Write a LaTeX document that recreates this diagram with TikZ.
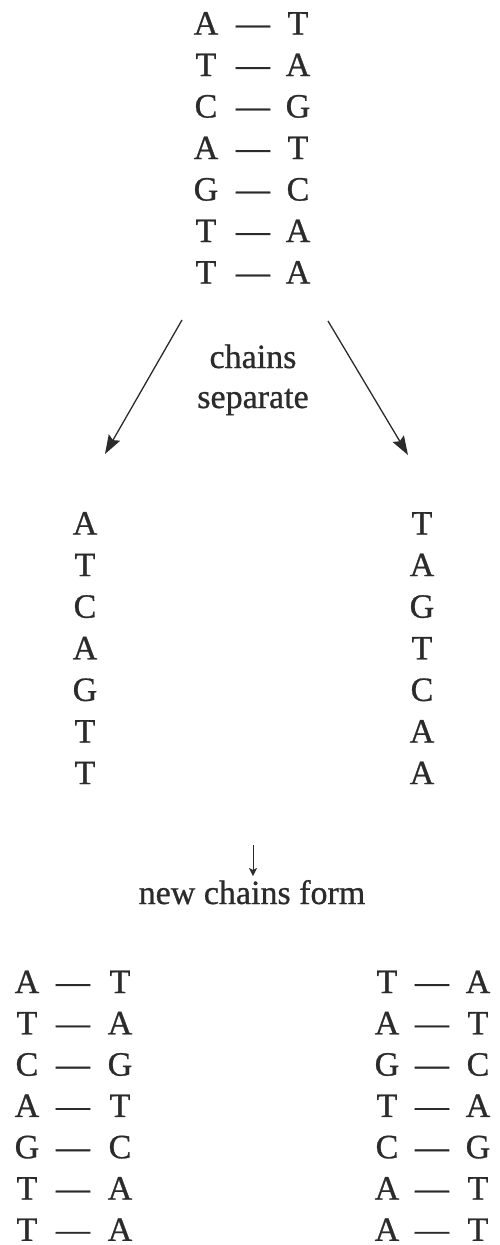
\documentclass[tikz,border=0pt]{standalone}
\usepackage{fontspec}
\setmainfont[FakeBold=0.8]{Liberation Serif}
\usetikzlibrary{arrows.meta}
\definecolor{ink}{HTML}{2B2B2B}
\begin{document}
\begin{tikzpicture}[x=1pt,y=-1pt,
  base/.style={anchor=base,inner sep=0pt,text=ink,font=\fontsize{34}{40}\selectfont},
  bigarrow/.style={draw=ink,line width=1.3pt,-{Stealth[length=19pt,width=13pt,inset=3pt]}},
  smallarrow/.style={draw=ink,line width=1pt,-{Stealth[length=8pt,width=8pt,inset=2pt]}}]
\useasboundingbox (0,0) rectangle (499,1245);

% original double strand
\foreach \l/\r [count=\i from 0] in {A/T,T/A,C/G,A/T,G/C,T/A,T/A} {
  \node[base] (tl\i) at (206,{34.5+41.5*\i}) {\l};
  \node[base] (td\i) at (253,{34.5+41.5*\i}) {---};
  \node[base] (tr\i) at (298,{34.5+41.5*\i}) {\r};
}

% separation arrows and label
\coordinate (sl0) at (182,320);
\coordinate (sl1) at (105,454);
\coordinate (sr0) at (328,321);
\coordinate (sr1) at (408,455);
\draw[bigarrow] (sl0) -- (sl1);
\draw[bigarrow] (sr0) -- (sr1);
\node[base] (chains) at (253,368) {chains};
\node[base] (separate) at (253,408) {separate};

% single strands
\foreach \l/\r [count=\i from 0] in {A/T,T/A,C/G,A/T,G/C,T/A,T/A} {
  \node[base] (ml\i) at (85,{534.5+41.6*\i}) {\l};
  \node[base] (mr\i) at (422,{534.5+41.6*\i}) {\r};
}

% new chains forming
\coordinate (d0) at (253,845);
\coordinate (d1) at (253,876);
\draw[smallarrow] (d0) -- (d1);
\node[base] (newchains) at (252,904) {new chains form};

% two daughter double strands
\foreach \l/\r [count=\i from 0] in {A/T,T/A,C/G,A/T,G/C,T/A,T/A} {
  \node[base] (al\i) at (27,{993+41.3*\i}) {\l};
  \node[base] (ad\i) at (73,{993+41.3*\i}) {---};
  \node[base] (ar\i) at (120,{993+41.3*\i}) {\r};
  \node[base] (bl\i) at (387,{993+41.3*\i}) {\r};
  \node[base] (bd\i) at (432,{993+41.3*\i}) {---};
  \node[base] (br\i) at (478,{993+41.3*\i}) {\l};
}
\end{tikzpicture}
\end{document}
